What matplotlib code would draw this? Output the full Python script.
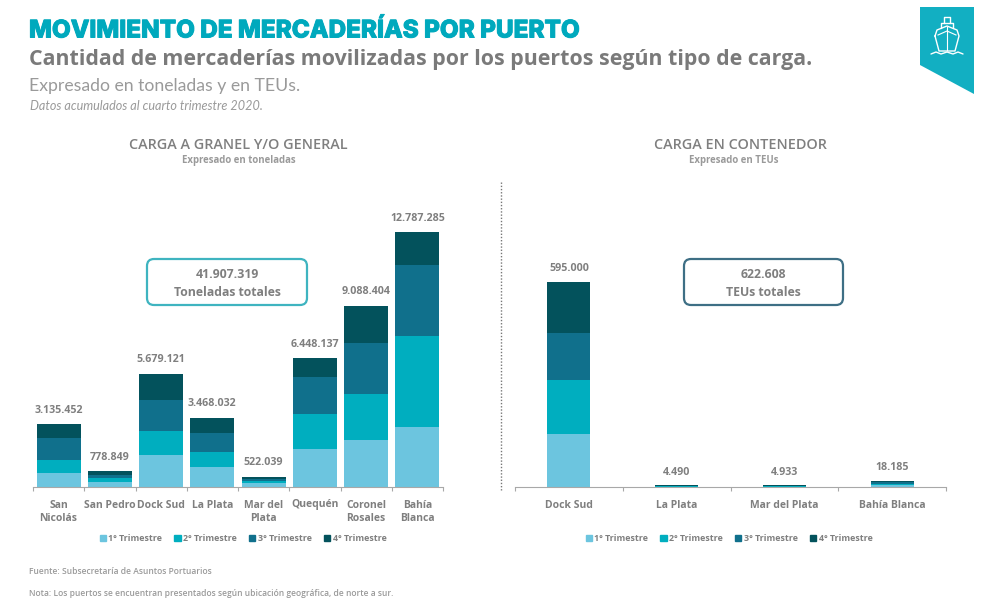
"""Movimiento de mercaderias por puerto: two stacked bar panels on one slide."""

import matplotlib

matplotlib.use("Agg")
import matplotlib.patheffects as pe
import matplotlib.pyplot as plt
import numpy as np
from matplotlib.patches import FancyBboxPatch, Patch, Polygon

W, H = 981, 609

QUARTERS = ["1° Trimestre", "2° Trimestre", "3° Trimestre", "4° Trimestre"]
COLORS = ["#6cc5df", "#00aebf", "#10708c", "#03525c"]
TEAL, GREY, GREY2 = "#00a9bd", "#7f7f7f", "#9a9a9a"

# carga a granel, toneladas por trimestre
GRANEL_PORTS = ["San\nNicolás", "San Pedro", "Dock Sud", "La Plata", "Mar del\nPlata", "Quequén", "Coronel\nRosales", "Bahía\nBlanca"]
GRANEL_Q1 = [700000, 250000, 1600000, 1000000, 180000, 1900000, 2350000, 3000000]
GRANEL_Q2 = [650000, 200000, 1200000, 750000, 130000, 1750000, 2300000, 4560000]
GRANEL_Q3 = [1100000, 170000, 1550000, 950000, 110000, 1850000, 2560000, 3570000]
GRANEL_Q4 = [685452, 158849, 1329121, 768032, 102039, 948137, 1878404, 1657285]
GRANEL_LABELS = ["3.135.452", "778.849", "5.679.121", "3.468.032", "522.039", "6.448.137", "9.088.404", "12.787.285"]

# carga en contenedor, TEUs por trimestre
TEU_PORTS = ["Dock Sud", "La Plata", "Mar del Plata", "Bahía Blanca"]
TEU_Q1 = [154000, 1100, 1200, 4500]
TEU_Q2 = [156000, 1100, 1300, 4500]
TEU_Q3 = [137000, 1100, 1200, 4600]
TEU_Q4 = [148000, 1190, 1233, 4585]
TEU_LABELS = ["595.000", "4.490", "4.933", "18.185"]


def px_axes(fig, x0, x1, top, bottom):
    return fig.add_axes([x0 / W, 1 - bottom / H, (x1 - x0) / W, (bottom - top) / H])


def stacked(ax, ports, series, labels, width, ymax, label_gap):
    x = np.arange(len(ports))
    bottom = np.zeros(len(ports))
    for vals, c, name in zip(series, COLORS, QUARTERS):
        ax.bar(x, vals, width, bottom=bottom, color=c, label=name)
        bottom += np.array(vals)
    for xi, top, lab in zip(x, bottom, labels):
        ax.text(xi, top + label_gap, lab, ha="center", va="bottom", fontsize=7.7,
                color=GREY, fontweight="bold")
    ax.set_xlim(-0.5, len(ports) - 0.5)
    ax.set_ylim(0, ymax)
    ax.set_xticks(x, ports)
    ax.set_xticks(np.arange(len(ports) + 1) - 0.5, minor=True)
    ax.tick_params(axis="x", which="major", length=0, pad=9, labelsize=7.5, labelcolor=GREY)
    ax.tick_params(axis="x", which="minor", length=3, width=0.8, color="#a8a8a8")
    for t in ax.get_xticklabels():
        t.set_fontweight("bold")
        t.set_linespacing(1.35)
    ax.yaxis.set_visible(False)
    for s in ("top", "right", "left"):
        ax.spines[s].set_visible(False)
    ax.spines["bottom"].set_color("#a8a8a8")
    ax.patch.set_alpha(0)


def legend(fig, cx, y):
    handles = [Patch(color=c, label=q) for c, q in zip(COLORS, QUARTERS)]
    fig.legend(handles=handles, loc="center", bbox_to_anchor=(cx / W, 1 - y / H), ncol=4,
               frameon=False, labelcolor=GREY, handlelength=0.7, handleheight=0.7,
               handletextpad=0.25, columnspacing=1.4, prop={"size": 6.4, "weight": "bold"})


plt.rcParams["font.family"] = ["Open Sans", "DejaVu Sans"]
fig = plt.figure(figsize=(W / 100, H / 100), dpi=100, facecolor="white")

# overlay in picture pixels for the slide furniture
deco = fig.add_axes([0, 0, 1, 1])
deco.set_xlim(0, W)
deco.set_ylim(H, 0)
deco.axis("off")

title = deco.text(29, 30.5, "MOVIMIENTO DE MERCADERÍAS POR PUERTO", fontsize=17.5, fontweight="heavy",
                  color=TEAL, va="center", family="Inter")
title.set_path_effects([pe.withStroke(linewidth=0.7, foreground=TEAL)])
deco.text(29, 60, "Cantidad de mercaderías movilizadas por los puertos según tipo de carga.",
          fontsize=15.43, fontweight="bold", color="#7a7a7a", va="center")
deco.text(29, 86, "Expresado en toneladas y en TEUs.", fontsize=12.7, color=GREY2, va="center",
          family="Lato")
deco.text(30, 106, "Datos acumulados al cuarto trimestre 2020.", fontsize=9.1, color=GREY2,
          va="center", style="italic", family="Lato")

deco.text(238.5, 145, "CARGA A GRANEL Y/O GENERAL", fontsize=10.4, fontweight="semibold",
          color=GREY, ha="center", va="center")
deco.text(238.5, 160, "Expresado en toneladas", fontsize=6.9, fontweight="bold", color=GREY2,
          ha="center", va="center")
deco.text(740, 145, "CARGA EN CONTENEDOR", fontsize=10.4, fontweight="semibold", color=GREY,
          ha="center", va="center")
deco.text(734, 160, "Expresado en TEUs", fontsize=6.9, fontweight="bold", color=GREY2,
          ha="center", va="center")

deco.plot([501, 501], [182, 490], color="#777777", lw=1, ls=(0, (1, 1.3)))

deco.add_patch(FancyBboxPatch((147, 259), 160, 46, boxstyle="round,pad=0,rounding_size=7",
                              fc="white", ec="#3fb4c0", lw=1.6))
deco.text(227, 275, "41.907.319", fontsize=8.8, fontweight="bold", color=GREY, ha="center", va="center")
deco.text(227, 292, "Toneladas totales", fontsize=8.8, fontweight="bold", color=GREY, ha="center", va="center")
deco.add_patch(FancyBboxPatch((684, 259), 159, 46, boxstyle="round,pad=0,rounding_size=7",
                              fc="white", ec="#3e6f85", lw=1.6))
deco.text(763.5, 275, "622.608", fontsize=8.8, fontweight="bold", color=GREY, ha="center", va="center")
deco.text(763.5, 292, "TEUs totales", fontsize=8.8, fontweight="bold", color=GREY, ha="center", va="center")

deco.text(29, 571, "Fuente: Subsecretaría de Asuntos Portuarios", fontsize=6.1, color=GREY2,
          va="center", fontweight="semibold")
deco.text(29, 593, "Nota: Los puertos se encuentran presentados según ubicación geográfica, de norte a sur.",
          fontsize=6.15, color=GREY2, va="center", fontweight="semibold")

# ship badge
deco.add_patch(Polygon([(920, 7), (974, 7), (974, 94), (920, 65)], fc="#12afc2", ec="none"))
ship = dict(color="white", lw=1, solid_capstyle="round")
deco.plot([935, 937, 947, 957, 959, 955, 939, 935], [36, 30, 26, 30, 36, 51, 51, 36], **ship)
deco.plot([947, 947], [27, 50], color="white", lw=0.8)
deco.plot([938, 947, 956], [35, 31, 35], color="white", lw=0.8)
deco.plot([941, 941, 953, 953], [28, 23, 23, 28], **ship)
deco.plot([944, 944, 950, 950], [23, 17, 17, 23], **ship)
deco.plot([931, 936, 941, 947, 953, 958, 963], [54, 52, 54, 52, 54, 52, 54], **ship)

# panels: baseline at y=487 in both
ax_granel = px_axes(fig, 33, 443, 200, 487)
stacked(ax_granel, GRANEL_PORTS, [GRANEL_Q1, GRANEL_Q2, GRANEL_Q3, GRANEL_Q4],
        GRANEL_LABELS, 0.86, 287 * 50150, 420000)
ax_teu = px_axes(fig, 515, 946, 200, 487)
stacked(ax_teu, TEU_PORTS, [TEU_Q1, TEU_Q2, TEU_Q3, TEU_Q4], TEU_LABELS, 0.40, 287 * 2902, 22000)

legend(fig, 243, 538.5)
legend(fig, 729, 538.5)

fig.savefig("out.png", dpi=100, facecolor="white")
